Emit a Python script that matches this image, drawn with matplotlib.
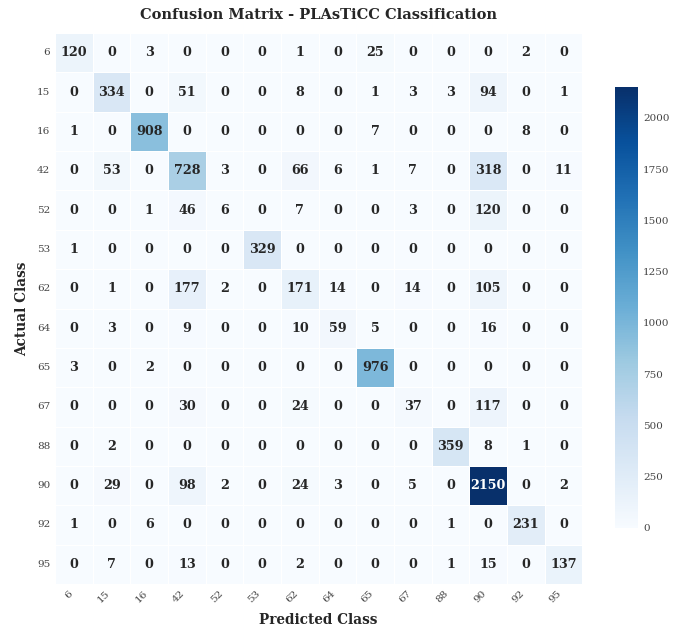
import numpy as np
import matplotlib
matplotlib.use("Agg")
import matplotlib.pyplot as plt
import seaborn as sns

classes = ['6', '15', '16', '42', '52', '53', '62', '64', '65', '67', '88', '90', '92', '95']

row_6 = [120, 0, 3, 0, 0, 0, 1, 0, 25, 0, 0, 0, 2, 0]
row_15 = [0, 334, 0, 51, 0, 0, 8, 0, 1, 3, 3, 94, 0, 1]
row_16 = [1, 0, 908, 0, 0, 0, 0, 0, 7, 0, 0, 0, 8, 0]
row_42 = [0, 53, 0, 728, 3, 0, 66, 6, 1, 7, 0, 318, 0, 11]
row_52 = [0, 0, 1, 46, 6, 0, 7, 0, 0, 3, 0, 120, 0, 0]
row_53 = [1, 0, 0, 0, 0, 329, 0, 0, 0, 0, 0, 0, 0, 0]
row_62 = [0, 1, 0, 177, 2, 0, 171, 14, 0, 14, 0, 105, 0, 0]
row_64 = [0, 3, 0, 9, 0, 0, 10, 59, 5, 0, 0, 16, 0, 0]
row_65 = [3, 0, 2, 0, 0, 0, 0, 0, 976, 0, 0, 0, 0, 0]
row_67 = [0, 0, 0, 30, 0, 0, 24, 0, 0, 37, 0, 117, 0, 0]
row_88 = [0, 2, 0, 0, 0, 0, 0, 0, 0, 0, 359, 8, 1, 0]
row_90 = [0, 29, 0, 98, 2, 0, 24, 3, 0, 5, 0, 2150, 0, 2]
row_92 = [1, 0, 6, 0, 0, 0, 0, 0, 0, 0, 1, 0, 231, 0]
row_95 = [0, 7, 0, 13, 0, 0, 2, 0, 0, 0, 1, 15, 0, 137]

cm = np.array([row_6, row_15, row_16, row_42, row_52, row_53, row_62,
               row_64, row_65, row_67, row_88, row_90, row_92, row_95])

sns.set_style("white")
plt.rcParams['font.family'] = ['DejaVu Serif']

fig = plt.figure(figsize=(6.89, 6.29), dpi=100)
ax = fig.add_axes([0.080, 0.0715, 0.765, 0.876])
cax = fig.add_axes([0.8926, 0.1606, 0.0334, 0.701])

sns.heatmap(cm, annot=True, fmt='d', cmap='Blues', ax=ax, cbar_ax=cax,
            linewidths=0.5, linecolor='white',
            xticklabels=classes, yticklabels=classes,
            annot_kws={'size': 9.2, 'weight': 'bold'})

ax.set_title('Confusion Matrix - PLAsTiCC Classification', fontsize=10.5,
             fontweight='bold', pad=10, color='#262626')
ax.set_xlabel('Predicted Class', fontsize=9.8, fontweight='bold', labelpad=6, color='#262626')
ax.set_ylabel('Actual Class', fontsize=9.8, fontweight='bold', labelpad=6, color='#262626')
plt.setp(ax.get_xticklabels(), rotation=45, ha='right', fontsize=7.5, color='#444444')
plt.setp(ax.get_yticklabels(), rotation=0, fontsize=7.5, color='#444444')
ax.tick_params(length=0)

cax.tick_params(labelsize=7.5, length=0, labelcolor='#444444')
cax.set_yticks([0, 250, 500, 750, 1000, 1250, 1500, 1750, 2000])

fig.savefig('out.png', dpi=100)
